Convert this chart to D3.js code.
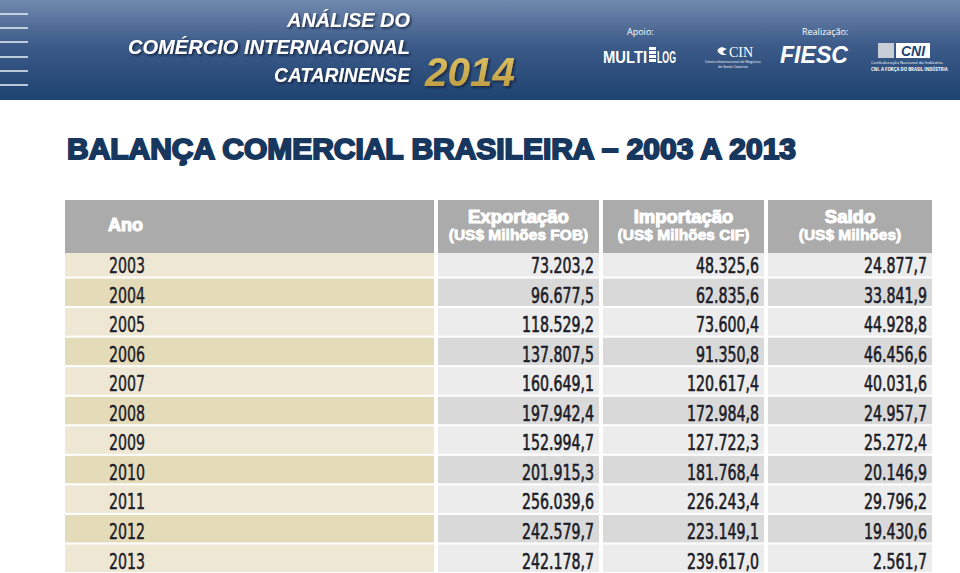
<!DOCTYPE html>
<html>
<head>
<meta charset="utf-8">
<title>Balança Comercial Brasileira 2003 a 2013</title>
<script src="https://d3js.org/d3.v7.min.js"></script>
<style>
body { margin: 0; background: #ffffff; }
svg { display: block; }
</style>
</head>
<body>
<svg width="960" height="573"></svg>
<script>
// table data (US$ millions)
var anos = ["2003", "2004", "2005", "2006", "2007", "2008", "2009", "2010", "2011", "2012", "2013"];
var exportacao = [73203.2, 96677.5, 118529.2, 137807.5, 160649.1, 197942.4, 152994.7, 201915.3, 256039.6, 242579.7, 242178.7];
var importacao = [48325.6, 62835.6, 73600.4, 91350.8, 120617.4, 172984.8, 127722.3, 181768.4, 226243.4, 223149.1, 239617.0];
var saldo = [24877.7, 33841.9, 44928.8, 46456.6, 40031.6, 24957.7, 25272.4, 20146.9, 29796.2, 19430.6, 2561.7];
var cabecalhos = [
  ["Exportação", "(US$ Milhões FOB)"],
  ["Importação", "(US$ Milhões CIF)"],
  ["Saldo", "(US$ Milhões)"]
];

var svg = d3.select("svg");
var br = d3.formatLocale({decimal: ",", thousands: ".", grouping: [3], currency: ["US$", ""]});
var fmt = br.format(",.1f");
var narrow = "'Liberation Sans Narrow', 'DejaVu Sans Condensed', 'Liberation Sans', sans-serif";
var heavy = "'Liberation Sans', Arial, sans-serif";
var squeeze = 0.75; // the table font is a condensed face

// ---- banner ----
var defs = svg.append("defs");
var grad = defs.append("linearGradient").attr("id", "banner").attr("x1", 0).attr("y1", 0).attr("x2", 0).attr("y2", 1);
grad.append("stop").attr("offset", "0%").attr("stop-color", "#7189ad");
grad.append("stop").attr("offset", "45%").attr("stop-color", "#3c5b89");
grad.append("stop").attr("offset", "100%").attr("stop-color", "#1e4370");
var gold = defs.append("linearGradient").attr("id", "gold").attr("x1", 0).attr("y1", 0).attr("x2", 0).attr("y2", 1);
gold.append("stop").attr("offset", "0%").attr("stop-color", "#e3c66c");
gold.append("stop").attr("offset", "100%").attr("stop-color", "#b8973a");
var shadow = defs.append("filter").attr("id", "shadow");
shadow.append("feDropShadow").attr("dx", 1.5).attr("dy", 1.5).attr("stdDeviation", 1.2)
  .attr("flood-color", "#0a1a33").attr("flood-opacity", 0.8);

svg.append("rect").attr("x", 0).attr("y", 0).attr("width", 960).attr("height", 100).attr("fill", "url(#banner)");

// little white lines at the left edge
[14, 28, 42, 57, 71, 85].forEach(function (y) {
  svg.append("rect").attr("x", 0).attr("y", y - 0.8).attr("width", 28).attr("height", 1.6).attr("fill", "#dfe6f0");
});

var bannerTxt = [
  {t: "ANÁLISE DO", y: 27, len: 123},
  {t: "COMÉRCIO INTERNACIONAL", y: 54, len: 282},
  {t: "CATARINENSE", y: 82, len: 136}
];
bannerTxt.forEach(function (b) {
  svg.append("text").attr("x", 410).attr("y", b.y)
    .attr("text-anchor", "end")
    .attr("font-family", heavy).attr("font-weight", "bold").attr("font-style", "italic")
    .attr("font-size", 21).attr("fill", "#ffffff")
    .attr("textLength", b.len).attr("lengthAdjust", "spacingAndGlyphs")
    .attr("filter", "url(#shadow)")
    .text(b.t);
});
svg.append("text").attr("x", 425).attr("y", 86)
  .attr("font-family", heavy).attr("font-weight", "bold").attr("font-style", "italic")
  .attr("font-size", 41).attr("fill", "url(#gold)")
  .attr("textLength", 90).attr("lengthAdjust", "spacingAndGlyphs")
  .attr("filter", "url(#shadow)")
  .text("2014");

// sponsors
var small = function (x, y, t, size, extra) {
  var s = svg.append("text").attr("x", x).attr("y", y)
    .attr("font-family", "'Open Sans', sans-serif").attr("font-size", size)
    .attr("fill", "#ffffff").text(t);
  if (extra) extra(s);
  return s;
};
small(627, 35, "Apoio:", 9);
small(802, 35, "Realização:", 9);

svg.append("text").attr("x", 603).attr("y", 63)
  .attr("font-family", heavy).attr("font-weight", "bold").attr("font-size", 17)
  .attr("fill", "#ffffff").attr("textLength", 44).attr("lengthAdjust", "spacingAndGlyphs").text("MULTI");
[47, 51, 55, 59].forEach(function (y) {
  svg.append("rect").attr("x", 649).attr("y", y).attr("width", 7).attr("height", 3).attr("fill", "#ffffff");
});
svg.append("text").attr("x", 657).attr("y", 63)
  .attr("font-family", heavy).attr("font-weight", "bold").attr("font-size", 17)
  .attr("fill", "#ffffff").attr("textLength", 19).attr("lengthAdjust", "spacingAndGlyphs").text("LOG");

svg.append("path").attr("d", "M722,47 Q713,50 722,55 L727,55 Q719,52 727,49 Z").attr("fill", "#ffffff");
svg.append("text").attr("x", 729).attr("y", 57)
  .attr("font-family", "'Liberation Serif', serif").attr("font-size", 14)
  .attr("fill", "#ffffff").text("CIN");
small(705, 63, "Centro Internacional de Negócios", 3.6);
small(718, 68, "de Santa Catarina", 3.6);

svg.append("text").attr("x", 780).attr("y", 63)
  .attr("font-family", heavy).attr("font-weight", "bold").attr("font-style", "italic")
  .attr("font-size", 24).attr("fill", "#ffffff")
  .attr("textLength", 68).attr("lengthAdjust", "spacingAndGlyphs").text("FIESC");

svg.append("rect").attr("x", 878).attr("y", 43).attr("width", 16).attr("height", 15).attr("fill", "#c9ced6");
svg.append("rect").attr("x", 896).attr("y", 43).attr("width", 34).attr("height", 15).attr("fill", "#ffffff");
svg.append("text").attr("x", 913).attr("y", 56).attr("text-anchor", "middle")
  .attr("font-family", heavy).attr("font-weight", "bold").attr("font-style", "italic")
  .attr("font-size", 14).attr("fill", "#1e4370").text("CNI");
small(871, 64, "Confederação Nacional da Indústria", 4.3);
small(871, 71, "CNI. A FORÇA DO BRASIL INDÚSTRIA", 4.3, function (s) { s.attr("font-weight", "bold"); });

// ---- title ----
svg.append("text").attr("x", 67).attr("y", 159)
  .attr("font-family", heavy).attr("font-weight", "bold").attr("font-size", 29)
  .attr("fill", "#17375e").attr("stroke", "#17375e").attr("stroke-width", 1.9)
  .attr("textLength", 729).attr("lengthAdjust", "spacingAndGlyphs")
  .text("BALANÇA COMERCIAL BRASILEIRA – 2003 A 2013");

// ---- table ----
var colunas = [
  {x0: 65, x1: 434},   // Ano
  {x0: 438, x1: 599},  // Exportação
  {x0: 603, x1: 764},  // Importação
  {x0: 768, x1: 932}   // Saldo
];
var series = [exportacao, importacao, saldo];

var y = d3.scaleBand().domain(anos).range([249, 572]).paddingInner(0.07).paddingOuter(0);

var linhas = svg.append("g").selectAll("g").data(anos).join("g")
  .attr("transform", function (d) { return "translate(0," + y(d) + ")"; });

linhas.append("rect")
  .attr("x", colunas[0].x0).attr("width", colunas[0].x1 - colunas[0].x0)
  .attr("height", y.bandwidth())
  .attr("fill", function (d, i) { return i % 2 ? "#e4dbb9" : "#ede7d4"; });

linhas.append("text")
  .attr("transform", "translate(109,24) scale(" + squeeze + ",1)")
  .attr("font-family", narrow).attr("font-size", 21).attr("fill", "#1c1c28")
  .attr("stroke", "#1c1c28").attr("stroke-width", 0.4)
  .text(function (d) { return d; });

series.forEach(function (vals, c) {
  var col = colunas[c + 1];
  linhas.append("rect")
    .attr("x", col.x0).attr("width", col.x1 - col.x0)
    .attr("height", y.bandwidth())
    .attr("fill", function (d, i) { return i % 2 ? "#d9d9d9" : "#ececec"; });
  linhas.append("text")
    .attr("transform", "translate(" + (col.x1 - 5) + ",24) scale(" + squeeze + ",1)")
    .attr("text-anchor", "end")
    .attr("font-family", narrow).attr("font-size", 21).attr("fill", "#1c1c28")
    .attr("stroke", "#1c1c28").attr("stroke-width", 0.6)
    .text(function (d, i) { return fmt(vals[i]); });
});

// header row drawn last so it sits over the first band edge
var head = svg.append("g");
colunas.forEach(function (col) {
  head.append("rect").attr("x", col.x0).attr("y", 200)
    .attr("width", col.x1 - col.x0).attr("height", 53).attr("fill", "#ababab");
});
head.append("text").attr("x", 108).attr("y", 231)
  .attr("font-family", heavy).attr("font-weight", "bold").attr("font-size", 18)
  .attr("fill", "#ffffff").attr("stroke", "#ffffff").attr("stroke-width", 1.1)
  .text("Ano");
cabecalhos.forEach(function (h, c) {
  var col = colunas[c + 1];
  var cx = (col.x0 + col.x1) / 2;
  head.append("text").attr("x", cx).attr("y", 223).attr("text-anchor", "middle")
    .attr("font-family", heavy).attr("font-weight", "bold").attr("font-size", 18.5)
    .attr("fill", "#ffffff").attr("stroke", "#ffffff").attr("stroke-width", 1.1)
    .text(h[0]);
  head.append("text").attr("x", cx).attr("y", 240).attr("text-anchor", "middle")
    .attr("font-family", heavy).attr("font-weight", "bold").attr("font-size", 15.5)
    .attr("fill", "#ffffff").attr("stroke", "#ffffff").attr("stroke-width", 0.8)
    .text(h[1]);
});
</script>
</body>
</html>
